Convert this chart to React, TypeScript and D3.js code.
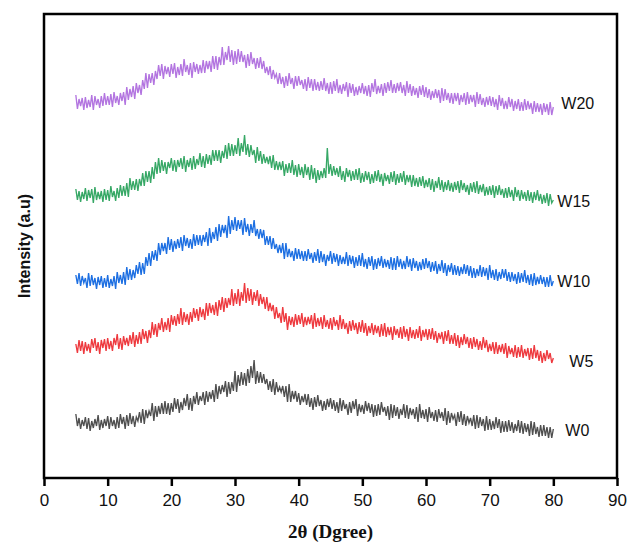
import React, { useEffect, useRef } from 'react';
import * as d3 from 'd3';

// scan starts at 5 deg, one reading every 0.25 deg up to 80 deg
const START_ANGLE = 5;
const STEP = 0.25;

const sampleNames = ['W0', 'W5', 'W10', 'W15', 'W20'];
const sampleColors = ['#4f4f4f', '#ee3a3f', '#1d6fe2', '#37a866', '#b375e0'];
// vertical stacking offset (a.u) applied to each pattern
const sampleOffsets = [0, 80, 150, 230, 320];
const xTicks = [0, 10, 20, 30, 40, 50, 60, 70, 80, 90];

const w0 = [
  64, 52, 60, 49, 58, 52, 61, 49, 60, 47, 57, 50, 59, 52, 63, 48, 58, 50, 59, 52,
  62, 49, 61, 52, 58, 49, 61, 50, 64, 54, 61, 49, 63, 52, 65, 54, 62, 51, 61, 57,
  66, 55, 69, 54, 68, 60, 67, 62, 75, 57, 72, 61, 72, 64, 75, 64, 77, 64, 75, 63,
  75, 66, 80, 69, 79, 65, 76, 68, 80, 72, 84, 68, 80, 67, 82, 74, 86, 73, 82, 77,
  86, 73, 87, 76, 86, 79, 88, 76, 94, 79, 92, 84, 93, 86, 97, 81, 96, 84, 96, 87,
  107, 86, 103, 92, 106, 93, 105, 92, 109, 95, 112, 100, 118, 94, 107, 95, 106, 95, 104, 94,
  99, 88, 97, 86, 99, 83, 96, 86, 91, 86, 92, 81, 92, 76, 94, 76, 87, 79, 87, 76,
  85, 73, 82, 76, 84, 73, 84, 71, 80, 68, 81, 71, 83, 72, 78, 67, 77, 68, 79, 71,
  80, 69, 78, 67, 76, 65, 80, 67, 78, 69, 74, 63, 76, 65, 77, 69, 79, 62, 74, 66,
  73, 64, 77, 67, 75, 65, 74, 61, 73, 62, 74, 63, 76, 66, 71, 62, 72, 58, 74, 60,
  73, 62, 71, 59, 69, 63, 74, 60, 73, 59, 70, 63, 69, 59, 71, 56, 74, 60, 68, 59,
  69, 56, 71, 60, 66, 57, 68, 56, 69, 60, 66, 57, 70, 53, 67, 55, 65, 59, 63, 52,
  66, 56, 67, 53, 64, 52, 62, 55, 60, 52, 63, 49, 63, 50, 61, 52, 59, 47, 62, 48,
  59, 48, 57, 49, 61, 50, 59, 45, 57, 46, 57, 46, 58, 47, 56, 45, 54, 47, 58, 45,
  57, 44, 55, 46, 54, 42, 57, 43, 56, 44, 51, 41, 53, 42, 53, 42, 51, 40, 51, 40,
  49,
];

const w5 = [
  54, 45, 58, 47, 57, 44, 56, 47, 54, 45, 59, 50, 60, 47, 56, 44, 58, 50, 59, 47,
  60, 49, 57, 47, 60, 53, 64, 49, 60, 48, 62, 53, 60, 52, 63, 54, 66, 51, 63, 54,
  66, 54, 69, 59, 67, 55, 68, 60, 76, 63, 74, 61, 75, 68, 80, 66, 76, 68, 80, 66,
  83, 73, 82, 72, 84, 74, 90, 73, 86, 76, 84, 73, 86, 76, 90, 80, 89, 77, 91, 81,
  89, 78, 95, 82, 95, 85, 93, 83, 96, 82, 98, 88, 101, 86, 100, 90, 100, 93, 109, 92,
  105, 94, 109, 92, 106, 97, 115, 95, 110, 97, 109, 93, 106, 97, 108, 92, 104, 94, 101, 89,
  101, 87, 95, 87, 93, 79, 91, 80, 85, 75, 91, 76, 85, 68, 82, 73, 81, 71, 84, 73,
  83, 74, 85, 71, 81, 73, 81, 74, 83, 69, 85, 71, 80, 72, 81, 69, 83, 71, 78, 69,
  80, 68, 81, 72, 78, 68, 83, 69, 79, 69, 75, 64, 77, 67, 78, 68, 75, 64, 76, 66,
  78, 65, 75, 62, 72, 65, 75, 63, 73, 65, 72, 61, 74, 62, 75, 61, 71, 63, 71, 58,
  72, 63, 69, 60, 71, 59, 72, 61, 69, 57, 71, 60, 68, 59, 69, 60, 72, 57, 68, 61,
  69, 58, 69, 59, 70, 58, 67, 55, 65, 59, 66, 54, 67, 57, 68, 54, 63, 54, 65, 52,
  63, 50, 61, 53, 64, 54, 61, 50, 60, 49, 61, 51, 59, 48, 57, 48, 61, 50, 58, 46,
  54, 47, 56, 44, 56, 44, 53, 46, 54, 44, 55, 40, 52, 44, 50, 41, 53, 40, 51, 41,
  53, 40, 49, 42, 50, 38, 50, 39, 53, 40, 48, 37, 47, 35, 45, 37, 48, 39, 45, 35,
  40,
];

const w10 = [
  53, 44, 55, 42, 52, 45, 50, 40, 55, 42, 53, 43, 50, 39, 51, 43, 52, 40, 50, 41,
  53, 40, 49, 42, 52, 39, 56, 45, 53, 44, 56, 43, 61, 48, 59, 48, 58, 50, 63, 54,
  66, 53, 65, 54, 71, 62, 75, 62, 77, 68, 78, 67, 85, 73, 85, 77, 85, 74, 91, 78,
  89, 76, 87, 79, 89, 80, 91, 77, 93, 82, 90, 80, 89, 79, 94, 82, 93, 83, 93, 82,
  93, 86, 96, 82, 100, 85, 96, 89, 101, 87, 104, 91, 103, 95, 103, 90, 112, 94, 108, 98,
  111, 97, 108, 99, 108, 93, 110, 96, 104, 92, 104, 95, 108, 92, 99, 89, 99, 90, 98, 83,
  92, 83, 92, 79, 90, 79, 84, 75, 83, 75, 85, 69, 85, 71, 79, 71, 77, 67, 80, 69,
  79, 69, 77, 67, 77, 67, 79, 69, 75, 65, 76, 67, 79, 65, 77, 66, 74, 62, 73, 67,
  77, 64, 75, 66, 74, 62, 73, 64, 71, 64, 76, 62, 73, 64, 72, 60, 71, 62, 73, 62,
  75, 61, 69, 59, 71, 62, 72, 58, 69, 59, 70, 62, 72, 60, 69, 61, 68, 59, 71, 58,
  70, 58, 72, 61, 69, 59, 67, 59, 72, 61, 69, 57, 70, 60, 67, 57, 66, 58, 69, 59,
  70, 60, 67, 56, 66, 57, 67, 54, 64, 57, 68, 55, 65, 52, 63, 56, 65, 53, 63, 53,
  62, 52, 61, 54, 64, 54, 63, 52, 62, 50, 60, 50, 59, 52, 63, 51, 61, 52, 60, 48,
  63, 50, 58, 48, 59, 47, 56, 49, 59, 50, 59, 47, 56, 46, 56, 47, 54, 44, 56, 45,
  55, 46, 58, 45, 53, 43, 54, 42, 55, 43, 51, 44, 53, 44, 51, 41, 51, 41, 53, 42,
  47,
];

const w15 = [
  59, 48, 57, 46, 56, 49, 60, 47, 58, 50, 59, 45, 61, 48, 56, 49, 57, 46, 59, 48,
  58, 47, 62, 51, 57, 47, 60, 50, 63, 52, 62, 52, 65, 51, 70, 58, 67, 58, 69, 57,
  69, 62, 75, 62, 77, 66, 77, 65, 81, 69, 86, 74, 90, 75, 88, 77, 86, 74, 86, 80,
  90, 77, 88, 76, 88, 81, 90, 79, 92, 76, 88, 81, 90, 78, 92, 79, 89, 83, 95, 81,
  92, 80, 94, 84, 93, 83, 98, 87, 98, 87, 98, 85, 97, 90, 103, 89, 105, 92, 104, 92,
  103, 94, 110, 92, 105, 96, 113, 93, 104, 91, 103, 93, 98, 85, 101, 87, 97, 84, 94, 85,
  91, 84, 92, 80, 93, 78, 87, 78, 86, 78, 87, 72, 84, 75, 85, 75, 88, 73, 83, 71,
  84, 73, 81, 70, 84, 73, 81, 68, 83, 69, 80, 65, 78, 68, 77, 70, 80, 70, 100, 74,
  84, 72, 82, 73, 80, 71, 82, 68, 77, 66, 80, 71, 78, 67, 77, 68, 79, 68, 80, 65,
  75, 66, 77, 68, 76, 64, 74, 65, 77, 67, 78, 66, 74, 62, 75, 67, 73, 64, 76, 66,
  77, 63, 74, 65, 75, 66, 77, 63, 73, 66, 73, 61, 73, 62, 70, 61, 71, 62, 72, 60,
  68, 61, 70, 58, 69, 56, 67, 60, 71, 58, 68, 56, 66, 58, 68, 57, 65, 56, 66, 58,
  67, 55, 68, 58, 65, 56, 63, 53, 65, 56, 66, 55, 67, 54, 63, 56, 64, 52, 61, 53,
  62, 53, 63, 50, 62, 53, 63, 53, 59, 50, 60, 50, 61, 51, 58, 47, 61, 51, 58, 47,
  58, 49, 56, 47, 58, 47, 56, 45, 56, 48, 58, 47, 54, 44, 53, 45, 55, 42, 54, 45,
  48,
];

const w20 = [
  63, 49, 59, 52, 60, 48, 61, 50, 58, 51, 63, 48, 62, 53, 59, 50, 62, 52, 65, 53,
  62, 53, 64, 51, 66, 55, 62, 53, 65, 57, 66, 53, 71, 58, 69, 61, 72, 59, 75, 65,
  73, 63, 78, 69, 85, 70, 84, 75, 85, 73, 87, 79, 93, 82, 94, 79, 92, 84, 91, 81,
  94, 84, 95, 80, 91, 83, 94, 82, 99, 86, 93, 83, 95, 80, 96, 86, 94, 84, 93, 85,
  98, 85, 97, 89, 97, 86, 102, 89, 102, 88, 101, 93, 111, 93, 106, 98, 112, 96, 108, 93,
  107, 94, 109, 96, 107, 96, 103, 90, 104, 92, 106, 94, 100, 89, 100, 90, 101, 89, 97, 85,
  91, 83, 92, 79, 88, 80, 84, 74, 85, 74, 81, 70, 82, 72, 85, 74, 80, 69, 82, 72,
  82, 73, 78, 69, 79, 67, 81, 70, 79, 67, 79, 68, 76, 67, 77, 68, 80, 67, 75, 64,
  76, 64, 77, 67, 79, 65, 73, 64, 74, 67, 76, 61, 75, 65, 74, 62, 71, 63, 72, 65,
  75, 64, 72, 62, 73, 61, 75, 66, 79, 64, 72, 65, 74, 62, 75, 65, 76, 67, 78, 65,
  74, 65, 75, 67, 76, 65, 73, 62, 77, 65, 74, 62, 72, 63, 70, 60, 72, 63, 73, 61,
  71, 60, 69, 58, 67, 60, 69, 60, 68, 55, 70, 57, 69, 58, 65, 55, 65, 54, 65, 57,
  65, 53, 63, 56, 65, 53, 66, 54, 63, 56, 63, 51, 66, 54, 64, 53, 60, 51, 61, 53,
  62, 52, 61, 51, 59, 48, 63, 52, 60, 49, 57, 49, 61, 51, 59, 47, 57, 49, 59, 47,
  56, 47, 59, 48, 57, 49, 55, 44, 57, 46, 55, 46, 54, 43, 55, 46, 54, 43, 56, 43,
  51,
];

const seriesValues = [w0, w5, w10, w15, w20];

// small nudges for the W labels next to the line ends [dx, dy]
const labelNudge = [[12, 0], [16, 6], [4, 1], [4, 3], [8, -5]];

const WIDTH = 628;
const HEIGHT = 545;

const XrdChart = () => {
  const svgRef = useRef<SVGSVGElement>(null);

  useEffect(() => {
    const svg = d3.select(svgRef.current);
    svg.selectAll('*').remove();

    const margin = { top: 14, right: 11, bottom: 67, left: 44 };
    const innerW = WIDTH - margin.left - margin.right;
    const innerH = HEIGHT - margin.top - margin.bottom;

    const x = d3.scaleLinear()
      .domain([0, 90])
      .range([margin.left, margin.left + innerW]);

    const y = d3.scaleLinear()
      .domain([0, innerH])
      .range([margin.top + innerH, margin.top]);

    // patterns
    seriesValues.forEach((vals, k) => {
      const off = sampleOffsets[k];
      const line = d3.line<number>()
        .x((d, i) => x(START_ANGLE + i * STEP))
        .y(d => y(d + off));

      svg.append('path')
        .datum(vals)
        .attr('fill', 'none')
        .attr('stroke', sampleColors[k])
        .attr('stroke-width', 1.35)
        .attr('d', line);

      const tail = vals.slice(-16);
      const endY = y(d3.mean(tail) + off);
      svg.append('text')
        .attr('x', x(START_ANGLE + (vals.length - 1) * STEP) + labelNudge[k][0])
        .attr('y', endY + labelNudge[k][1])
        .attr('dy', '0.35em')
        .attr('font-family', 'Liberation Sans, Arial, sans-serif')
        .attr('font-size', 16)
        .attr('fill', '#111')
        .text(sampleNames[k]);
    });

    // frame
    svg.append('rect')
      .attr('x', margin.left)
      .attr('y', margin.top)
      .attr('width', innerW)
      .attr('height', innerH)
      .attr('fill', 'none')
      .attr('stroke', '#000')
      .attr('stroke-width', 2.5);

    // x axis
    const xAxis = svg.append('g')
      .attr('transform', `translate(0,${margin.top + innerH})`)
      .call(d3.axisBottom(x)
        .tickValues(xTicks)
        .tickSize(8)
        .tickSizeOuter(0)
        .tickPadding(8)
      );
    xAxis.select('.domain').remove();
    xAxis.selectAll('line')
      .attr('stroke', '#000')
      .attr('stroke-width', 2.5);
    xAxis.selectAll('text')
      .attr('font-family', 'Liberation Sans, Arial, sans-serif')
      .attr('font-size', 17)
      .attr('fill', '#111');

    // axis titles
    svg.append('text')
      .attr('x', margin.left + innerW / 2)
      .attr('y', 538)
      .attr('text-anchor', 'middle')
      .attr('font-family', 'Liberation Serif, Times New Roman, serif')
      .attr('font-weight', 'bold')
      .attr('font-size', 19)
      .attr('fill', '#111')
      .text('2θ (Dgree)');

    svg.append('text')
      .attr('transform', `translate(30,${margin.top + innerH / 2}) rotate(-90)`)
      .attr('text-anchor', 'middle')
      .attr('font-family', 'Liberation Sans, Arial, sans-serif')
      .attr('font-weight', 'bold')
      .attr('font-size', 16)
      .attr('fill', '#111')
      .text('Intensity (a.u)');
  }, []);

  return (
    <svg
      ref={svgRef}
      width={WIDTH}
      height={HEIGHT}
      style={{ position: 'absolute', left: 0, top: 0, background: '#fff' }}
    />
  );
};

export default function App() {
  return <XrdChart />;
}
